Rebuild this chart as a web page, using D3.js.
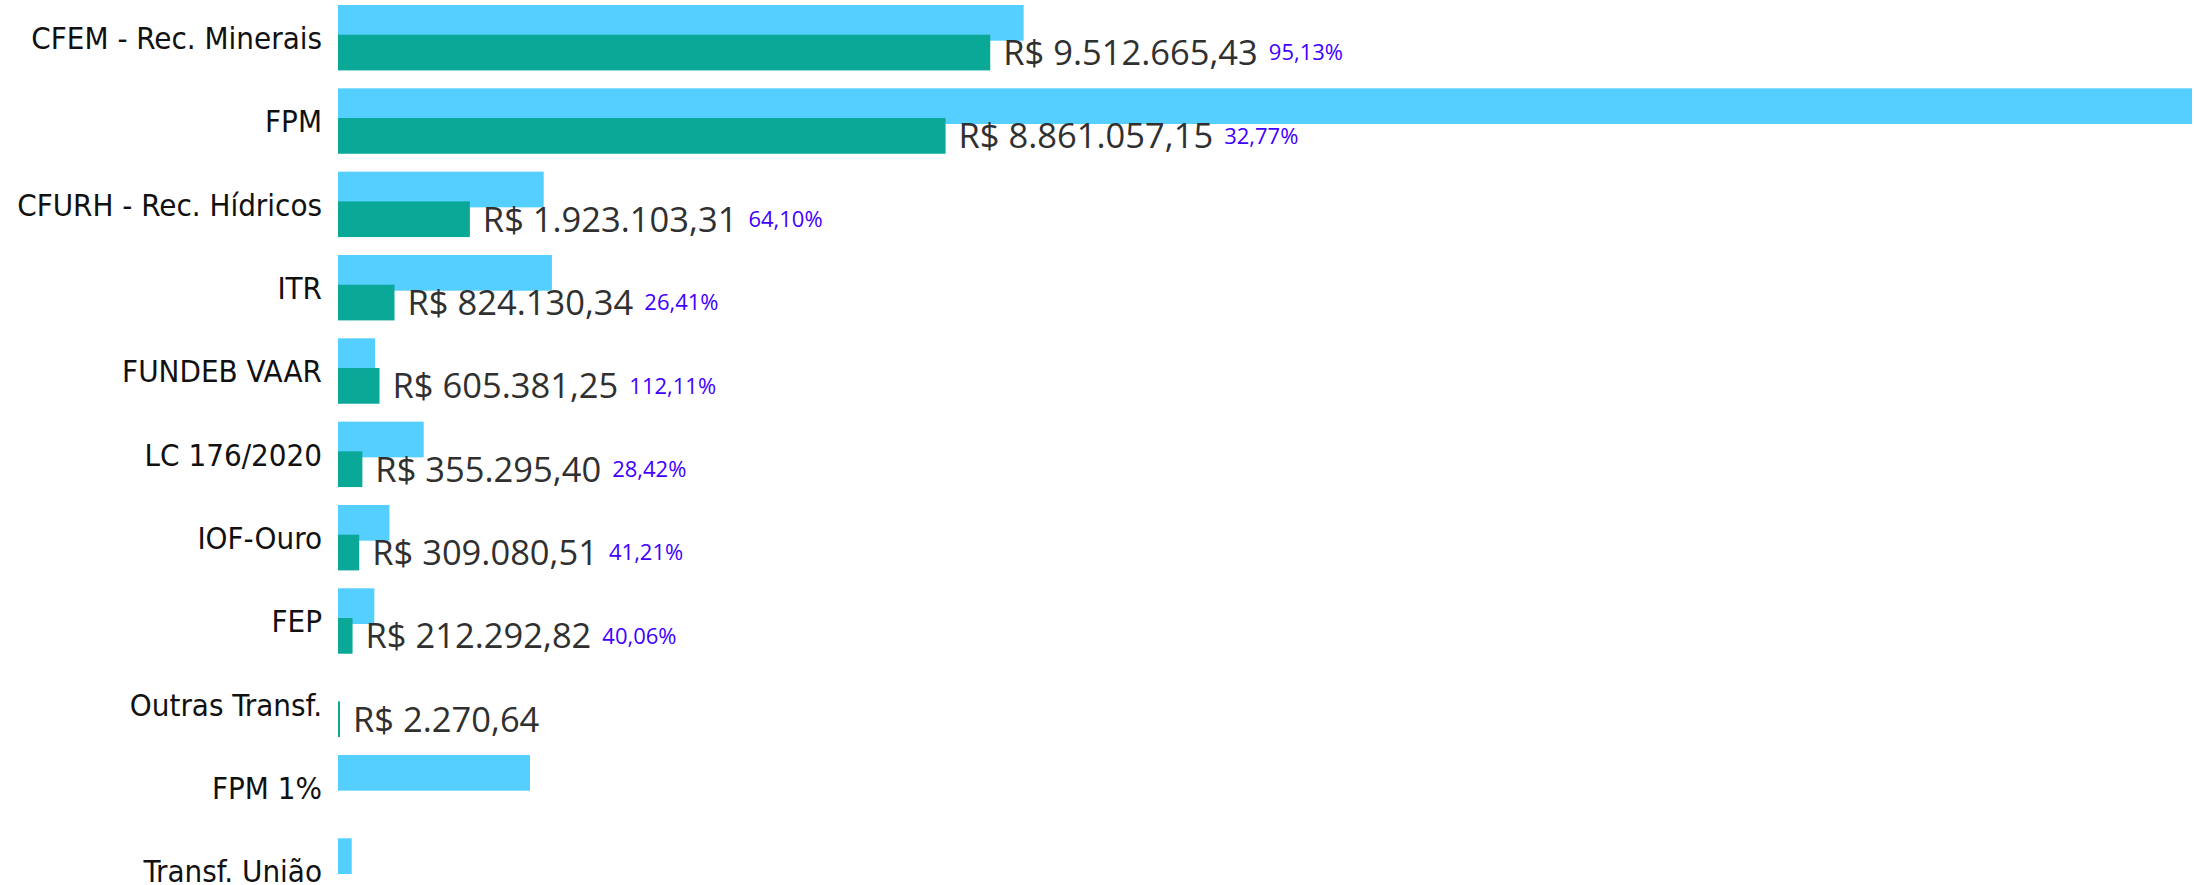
<!DOCTYPE html>
<html>
<head>
<meta charset="utf-8">
<script src="https://cdn.jsdelivr.net/npm/d3@7"></script>
<style>
  html, body { margin: 0; padding: 0; background: #fff; }
  svg { display: block; }
</style>
</head>
<body>
<div id="chart"></div>
<script>
// ── Dados ────────────────────────────────────────────────────────────────
const categorias = [
  'CFEM - Rec. Minerais', 'FPM', 'CFURH - Rec. Hídricos', 'ITR', 'FUNDEB VAAR',
  'LC 176/2020', 'IOF-Ouro', 'FEP', 'Outras Transf.', 'FPM 1%', 'Transf. União'
];
// previsto (barra azul clara) — estimado da imagem
const previsto = [
  10000000, 27040000, 3000000, 3120000, 540000,
  1250000, 750000, 530000, null, 2800000, 200000
];
// realizado (barra verde) — valores dos rótulos
const realizado = [
  9512665.43, 8861057.15, 1923103.31, 824130.34, 605381.25,
  355295.40, 309080.51, 212292.82, 2270.64, null, null
];

const W = 2194, H = 885;
const COR_PREV = '#54cfff';
const COR_REAL = '#0aa896';

const ptBR = d3.formatLocale({
  decimal: ',', thousands: '.', grouping: [3], currency: ['R$ ', '']
});
const fmtMoeda = ptBR.format('$,.2f');
const fmtPct   = ptBR.format('.2%');

const rows = categorias.map((c, i) => ({
  cat: c, prev: previsto[i], real: realizado[i]
}));

// ── Escalas ──────────────────────────────────────────────────────────────
const x = d3.scaleLinear()
  .domain([0, d3.max(previsto)])
  .range([338, 2192]);

const y = d3.scaleBand()
  .domain(categorias)
  .range([5, 5 + 83.33 * (categorias.length - 0.215)])
  .paddingInner(0.215)
  .paddingOuter(0);

const barH = 35.7;
const offReal = y.bandwidth() - barH;   // barra verde abaixo, sobreposta

const svg = d3.select('#chart').append('svg')
  .attr('width', W).attr('height', H)
  .attr('viewBox', `0 0 ${W} ${H}`);

// ── Barras previsto ──────────────────────────────────────────────────────
svg.append('g').selectAll('rect')
  .data(rows.filter(d => d.prev != null))
  .join('rect')
  .attr('x', x(0))
  .attr('y', d => y(d.cat))
  .attr('width', d => x(d.prev) - x(0))
  .attr('height', barH)
  .attr('fill', COR_PREV);

// ── Barras realizado ─────────────────────────────────────────────────────
svg.append('g').selectAll('rect')
  .data(rows.filter(d => d.real != null))
  .join('rect')
  .attr('x', x(0))
  .attr('y', d => y(d.cat) + offReal)
  .attr('width', d => Math.max(2, x(d.real) - x(0)))
  .attr('height', barH)
  .attr('fill', COR_REAL);

// ── Rótulos de categoria ─────────────────────────────────────────────────
svg.append('g').selectAll('text')
  .data(rows)
  .join('text')
  .attr('x', 322)
  .attr('y', d => y(d.cat) + y.bandwidth() / 2)
  .attr('dy', '0.36em')
  .attr('text-anchor', 'end')
  .style('font-family', '"DejaVu Sans Condensed", "DejaVu Sans", sans-serif')
  .style('font-size', '31px')
  .style('fill', '#111')
  .text(d => d.cat);

// ── Rótulos de valor + percentual ────────────────────────────────────────
const lbl = svg.append('g').selectAll('g')
  .data(rows.filter(d => d.real != null))
  .join('g');

lbl.append('text')
  .attr('class', 'valor')
  .attr('x', d => Math.max(x(0) + 2, x(d.real)) + 13)
  .attr('y', d => y(d.cat) + offReal + barH / 2)
  .attr('dy', '0.36em')
  .style('font-family', '"Open Sans", sans-serif')
  .style('font-size', '34.5px')
  .style('fill', '#303030')
  .text(d => fmtMoeda(d.real));

lbl.filter(d => d.prev != null)
  .append('text')
  .attr('x', function (d) {
    const v = this.parentNode.querySelector('text.valor');
    return +v.getAttribute('x') + v.getComputedTextLength() + 11;
  })
  .attr('y', d => y(d.cat) + offReal + barH / 2)
  .attr('dy', '0.36em')
  .style('font-family', '"Open Sans", sans-serif')
  .style('font-size', '22px')
  .style('fill', '#4000ff')
  .text(d => fmtPct(d.real / d.prev));
</script>
</body>
</html>
